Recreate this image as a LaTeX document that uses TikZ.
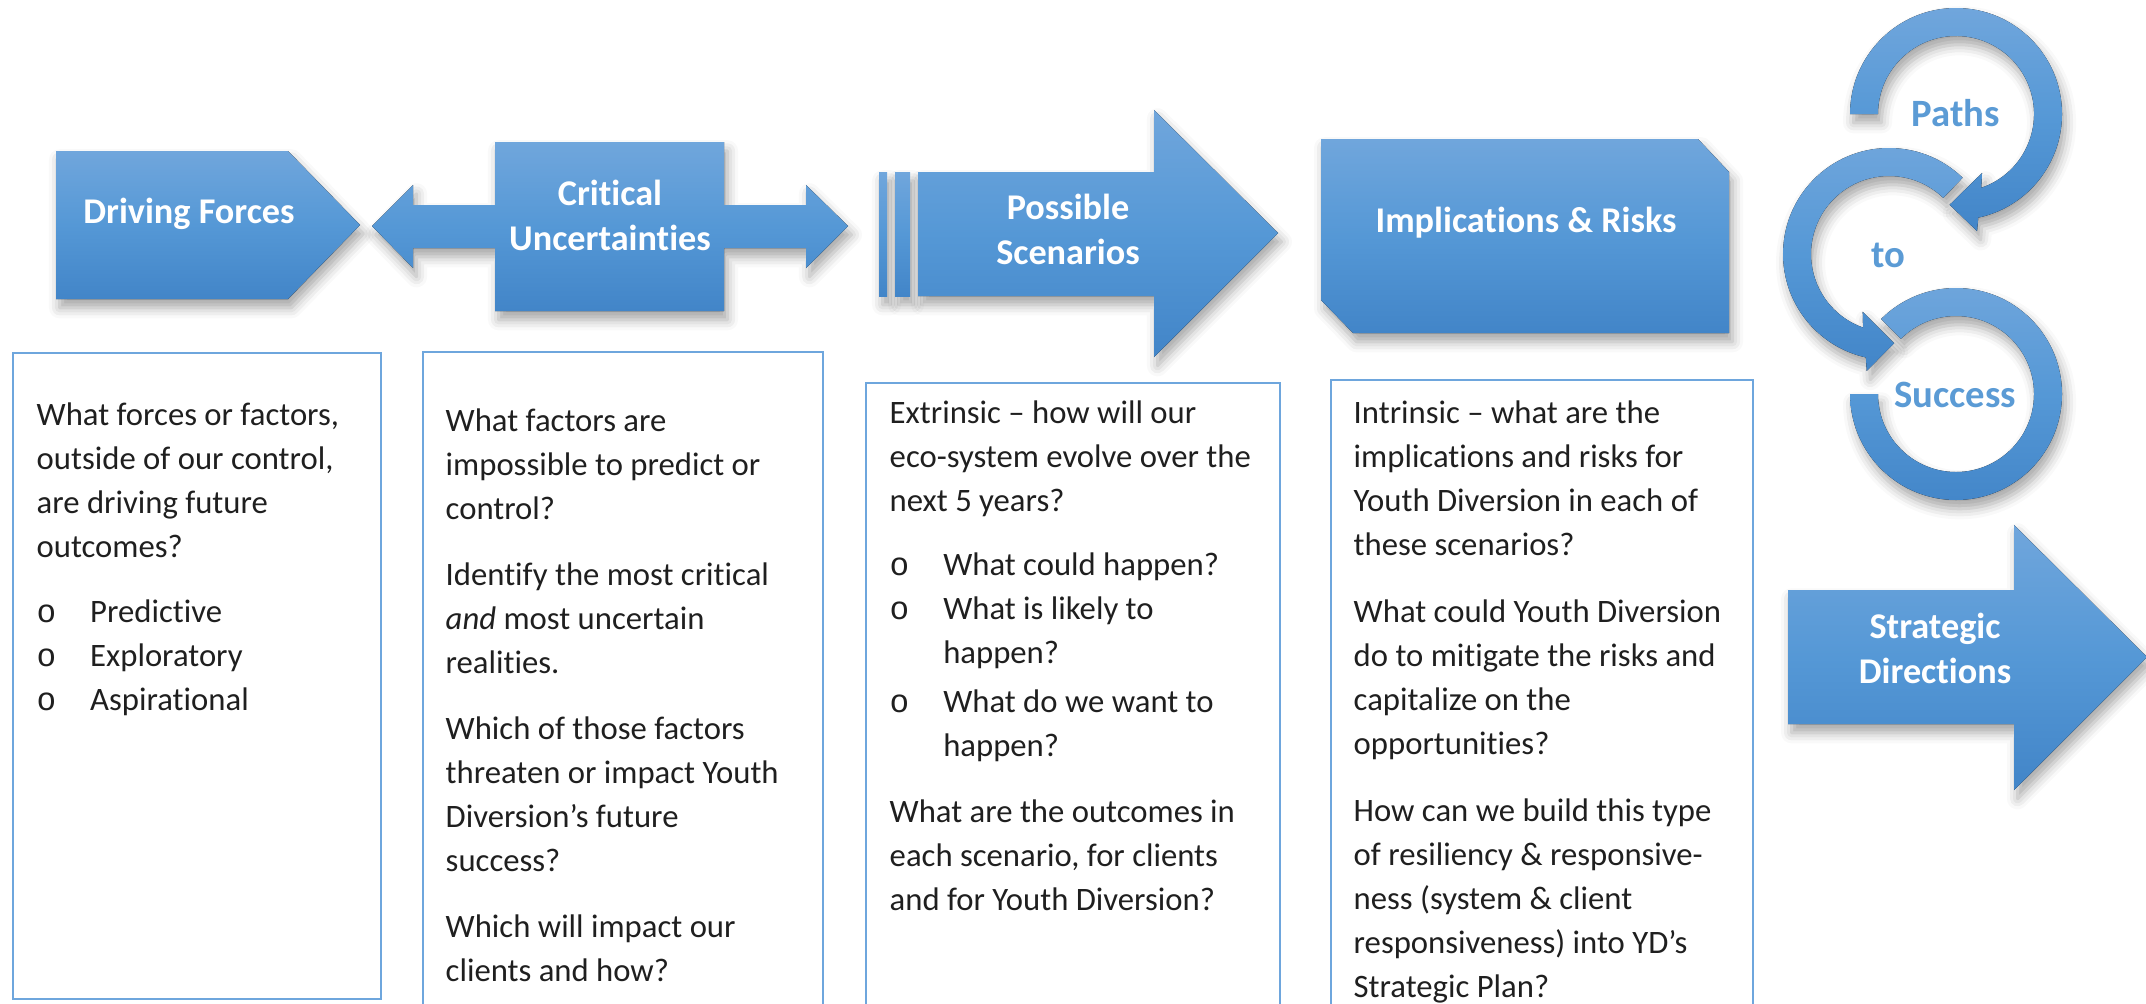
\documentclass[tikz,border=0pt]{standalone}
\usepackage{fontspec}
\setmainfont{Carlito}[Ligatures={TeX,NoCommon}]
\newfontfamily\bulletfont{Liberation Mono}
\usetikzlibrary{calc,shadows.blur}

\definecolor{flowtop}{HTML}{70A6DC}
\definecolor{flowmid}{HTML}{5598D6}
\definecolor{flowbot}{HTML}{4285C8}
\definecolor{frameblue}{HTML}{6EA6DD}
\definecolor{loopblue}{HTML}{5B9BD5}

\tikzset{
  flow/.style={top color=flowtop, bottom color=flowbot, middle color=flowmid, draw=none,
    blur shadow={shadow xshift=1pt, shadow yshift=-2.5pt, shadow blur radius=3pt, shadow opacity=35}},
  title/.style={text=white, font=\fontsize{10.3}{12.8}\selectfont\bfseries, align=center, inner sep=0pt},
  qbox/.style={draw=frameblue, line width=0.8pt},
  qtext/.style={anchor=north west, inner sep=0pt, align=left, text=black!88, font=\fontsize{9.3}{12.5}\selectfont},
  looptext/.style={text=loopblue, font=\fontsize{11}{13}\selectfont\bfseries, inner sep=0pt}
}
\newcommand{\bul}[1]{\makebox[0.535cm][l]{\bulletfont o}#1}
\newcommand{\cont}[1]{\hspace*{0.535cm}#1}

\begin{document}
\begin{tikzpicture}[x=0.01cm, y=-0.01cm]
    \useasboundingbox (0,0) rectangle (2146,1003);

    % process shapes along the top
    \fill[flow] (56,151) -- (288,151) -- (360,225) -- (288,299) -- (56,299) -- cycle;
    \node[title] (drive) at (189,214) {Driving Forces};

    \fill[flow] (372,226) -- (413,185) -- (413,205) -- (495,205) -- (495,142) -- (724,142)
      -- (724,205) -- (806,205) -- (806,185) -- (848,226) -- (806,268) -- (806,248)
      -- (724,248) -- (724,311) -- (495,311) -- (495,248) -- (413,248) -- (413,268) -- cycle;
    \node[title] (crit) at (610,215) {Critical\\Uncertainties};

    \fill[flow] (879,172) rectangle (887,296);
    \fill[flow] (895,172) rectangle (910,296);
    \fill[flow] (918,172) -- (1154,172) -- (1154,110) -- (1278,233) -- (1154,357)
      -- (1154,296) -- (918,296) -- cycle;
    \node[title] (scen) at (1068,229) {Possible\\Scenarios};

    \fill[flow] (1321,139) -- (1698,139) -- (1729,172) -- (1729,333) -- (1353,333) -- (1321,300) -- cycle;
    \node[title] (impl) at (1526,223) {Implications \& Risks};

    % circular arrows
    \coordinate (p1) at (1956,114);
    \coordinate (p2) at (1889,254);
    \coordinate (p3) at (1956,394);
    \fill[flow] ($(p3)+(-135:106)$) arc[start angle=-135, end angle=180, radius=106]
      -- ($(p3)+(180:78)$) arc[start angle=180, end angle=-135, radius=78] -- cycle;
    \fill[flow] ($(p2)+(-46:106)$) arc[start angle=-46, end angle=-257.4, radius=106]
      -- ($(p2)+(-259.2:119)$) -- ($(p2)+(-273.2:89.4)$) -- ($(p2)+(-245.5:63.5)$)
      -- ($(p2)+(-250.6:78)$) arc[start angle=-250.6, end angle=-46, radius=78] -- cycle;
    \fill[flow] ($(p1)+(180:106)$) arc[start angle=180, end angle=437.9, radius=106]
      -- ($(p1)+(439.8:119)$) -- ($(p1)+(454:91)$) -- ($(p1)+(426.2:64.5)$)
      -- ($(p1)+(431.1:78)$) arc[start angle=431.1, end angle=180, radius=78] -- cycle;
    \node[looptext] (paths) at (1956,113) {Paths};
    \node[looptext] (to) at (1888,255) {to};
    \node[looptext] (success) at (1955,395) {Success};

    \fill[flow] (1788,590) -- (2014,590) -- (2014,525) -- (2147,657) -- (2014,790)
      -- (2014,724) -- (1788,724) -- cycle;
    \node[title] (strat) at (1935,648) {Strategic\\Directions};

    % question boxes
    \draw[qbox] (13,353) rectangle (381,999);
    \draw[qbox] (423,352) rectangle (823,1015);
    \draw[qbox] (866,383) rectangle (1280,1015);
    \draw[qbox] (1331,380) rectangle (1753,1015);

    \node[qtext] (forcesq) at (36,394) {\strut What forces or factors,\\outside of our control,\\are driving future\\outcomes?\\[0.21cm]
      \bul{Predictive}\\\bul{Exploratory}\\\bul{Aspirational}};
    \node[qtext] (critq) at (445,400) {\strut What factors are\\impossible to predict or\\control?\\[0.22cm]
      Identify the most critical\\\emph{and} most uncertain\\realities.\\[0.22cm]
      Which of those factors\\threaten or impact Youth\\Diversion’s future\\success?\\[0.22cm]
      Which will impact our\\clients and how?};
    \node[qtext] (scenq) at (889,392) {\strut Extrinsic -- how will our\\eco-system evolve over the\\next 5 years?\\[0.2cm]
      \bul{What could happen?}\\\bul{What is likely to}\\\cont{happen?}\\[0.05cm]
      \bul{What do we want to}\\\cont{happen?}\\[0.22cm]
      What are the outcomes in\\each scenario, for clients\\and for Youth Diversion?};
    \node[qtext] (implq) at (1353,392) {\strut Intrinsic -- what are the\\implications and risks for\\Youth Diversion in each of\\these scenarios?\\[0.23cm]
      What could Youth Diversion\\do to mitigate the risks and\\capitalize on the\\opportunities?\\[0.23cm]
      How can we build this type\\of resiliency \& responsive-\\ness (system \& client\\responsiveness) into YD’s\\Strategic Plan?};
\end{tikzpicture}
\end{document}
